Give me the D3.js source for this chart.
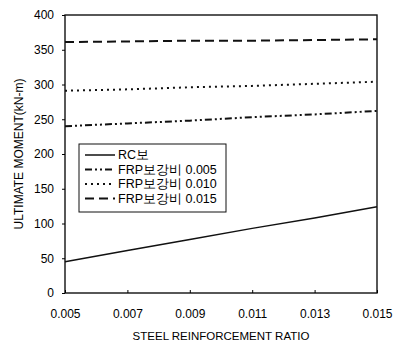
<!DOCTYPE html>
<html>
<head>
<meta charset="utf-8">
<script src="https://cdn.jsdelivr.net/npm/d3@7"></script>
<style>
  body { margin: 0; background: #fff; }
  text { font-family: "Liberation Sans", Arial, sans-serif; fill: #000; }
</style>
</head>
<body>
<div id="chart"></div>
<script>
let w = 394;
let h = 343;
let margin = { top: 15, right: 17, bottom: 50, left: 65 };

// data
const ratios = [0.005, 0.007, 0.009, 0.011, 0.013, 0.015];
const rcBeam = [45, 61, 77, 93, 108, 124];
const frp005 = [240, 244, 248, 253, 257, 262];
const frp010 = [291, 293, 296, 298, 301, 304];
const frp015 = [361, 362, 363, 363, 364, 365];
const seriesNames = ["RC보", "FRP보강비 0.005", "FRP보강비 0.010", "FRP보강비 0.015"];
const yTicks = [0, 50, 100, 150, 200, 250, 300, 350, 400];

const series = [
  { name: seriesNames[0], values: rcBeam, dash: null, width: 1.5 },
  { name: seriesNames[1], values: frp005, dash: "7,3,2,3,2,3", width: 2 },
  { name: seriesNames[2], values: frp010, dash: "2,4", width: 2 },
  { name: seriesNames[3], values: frp015, dash: "9,5", width: 2 }
];

let svg = d3.select("#chart")
            .append("svg")
            .attr("width", w)
            .attr("height", h);

let xScale = d3.scaleLinear([0.005, 0.015], [margin.left, w - margin.right]);
let yScale = d3.scaleLinear([0, 400], [h - margin.bottom, margin.top]);

// plot frame
svg.append("rect")
   .attr("x", margin.left)
   .attr("y", margin.top)
   .attr("width", w - margin.left - margin.right)
   .attr("height", h - margin.top - margin.bottom)
   .attr("fill", "none")
   .attr("stroke", "#111")
   .attr("stroke-width", 1.4);

// x axis, ticks pointing in
let xAxis = d3.axisBottom(xScale)
              .tickValues(ratios)
              .tickFormat(d3.format(".3f"))
              .tickSizeInner(-3)
              .tickSizeOuter(0)
              .tickPadding(16);

svg.append("g")
   .attr("transform", `translate(0,${h - margin.bottom})`)
   .call(xAxis)
   .call(g => g.select(".domain").remove())
   .call(g => g.selectAll("text").style("font-size", "12px").style("font-family", "Liberation Sans, Arial, sans-serif"));

let yAxis = d3.axisLeft(yScale)
              .tickValues(yTicks)
              .tickSizeInner(3)
              .tickSizeOuter(0)
              .tickPadding(8);

svg.append("g")
   .attr("transform", `translate(${margin.left},0)`)
   .call(yAxis)
   .call(g => g.select(".domain").remove())
   .call(g => g.selectAll("text").style("font-size", "12px").style("font-family", "Liberation Sans, Arial, sans-serif"));

// axis titles
svg.append("text")
   .attr("x", (margin.left + w - margin.right) / 2)
   .attr("y", 340)
   .attr("text-anchor", "middle")
   .style("font-size", "11.5px")
   .text("STEEL REINFORCEMENT RATIO");

svg.append("text")
   .attr("transform", `translate(23,${(margin.top + h - margin.bottom) / 2}) rotate(-90)`)
   .attr("text-anchor", "middle")
   .style("font-size", "12px")
   .text("ULTIMATE MOMENT(kN-m)");

// series lines
let line = d3.line()
             .x((d, i) => xScale(ratios[i]))
             .y(d => yScale(d));

svg.selectAll(".series")
   .data(series)
   .enter()
   .append("path")
   .attr("class", "series")
   .attr("d", d => line(d.values))
   .attr("fill", "none")
   .attr("stroke", "#111")
   .attr("stroke-width", d => d.width)
   .attr("stroke-dasharray", d => d.dash);

// legend
let legend = svg.append("g")
                .attr("transform", "translate(79,144)");

legend.append("rect")
      .attr("width", 147)
      .attr("height", 68)
      .attr("fill", "#fff")
      .attr("stroke", "#111")
      .attr("stroke-width", 1);

let items = legend.selectAll(".item")
                  .data(series)
                  .enter()
                  .append("g")
                  .attr("class", "item")
                  .attr("transform", (d, i) => `translate(6,${11 + i * 14.5})`);

items.append("line")
     .attr("x1", 0)
     .attr("x2", 30)
     .attr("stroke", "#111")
     .attr("stroke-width", d => d.width)
     .attr("stroke-dasharray", d => d.dash);

items.append("text")
     .attr("x", 33)
     .attr("dy", "0.35em")
     .style("font-size", "12.5px")
     .text(d => d.name);
</script>
</body>
</html>
